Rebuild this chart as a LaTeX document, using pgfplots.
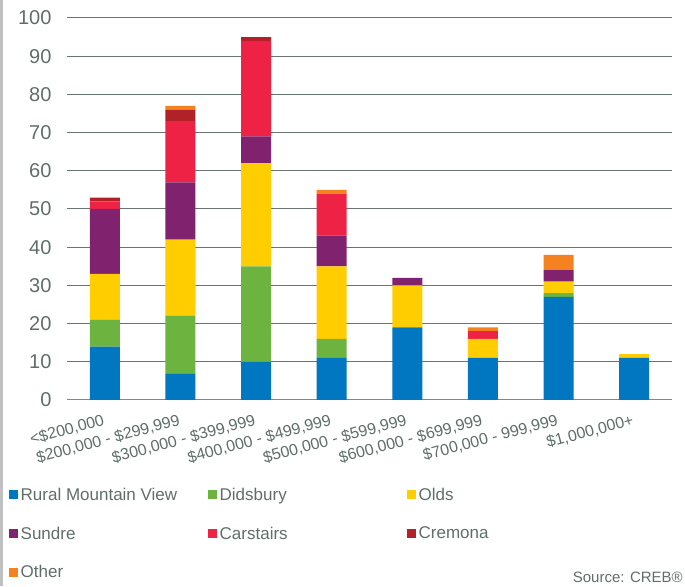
\documentclass[border=0pt]{standalone}
\usepackage{pgfplots}
\pgfplotsset{compat=1.18}
\usepackage{fontspec}
\setmainfont{Liberation Sans}
\definecolor{cRural}{RGB}{0,119,192}
\definecolor{cDid}{RGB}{109,179,63}
\definecolor{cOlds}{RGB}{255,205,0}
\definecolor{cSun}{RGB}{128,34,110}
\definecolor{cCar}{RGB}{237,34,68}
\definecolor{cCre}{RGB}{178,32,40}
\definecolor{cOth}{RGB}{245,130,32}
\definecolor{txt}{RGB}{95,110,106}
\definecolor{gridc}{RGB}{105,117,115}
\definecolor{axc}{RGB}{134,134,134}
\definecolor{framec}{RGB}{192,192,192}
\begin{document}
\begin{tikzpicture}
\useasboundingbox (0,0) rectangle (685pt,586pt);
\fill[framec] (0,0) rectangle (2.5pt,586pt);
\begin{axis}[
  at={(67pt,186pt)}, anchor=south west,
  width=605pt, height=382pt, scale only axis,
  ybar stacked, bar width=30pt,
  xmin=-0.5, xmax=7.5, ymin=0, ymax=100,
  xtick={0,...,7},
  xticklabels={{<\$200,000}, {\$200,000 - \$299,999}, {\$300,000 - \$399,999}, {\$400,000 - \$499,999}, {\$500,000 - \$599,999}, {\$600,000 - \$699,999}, {\$700,000 - 999,999}, {\$1,000,000+}},
  ytick={0,10,...,100},
  major tick length=0pt,
  axis line style={draw=none},
  ymajorgrids, grid style={gridc, line width=1pt},
  /pgf/number format/assume math mode=true,
  yticklabel style={font=\fontsize{20}{24}\selectfont, text=txt, xshift=-12pt},
  xticklabel style={font=\fontsize{16}{19}\selectfont, text=txt, rotate=15, anchor=north east, inner sep=0pt, yshift=-12pt, xshift=-6pt},
  legend columns=3,
  legend cell align=left,
  legend style={draw=none, fill=none, at={(axis description cs:-0.0967,-0.226)}, anchor=north west,
    font=\fontsize{17}{20}\selectfont, text=txt, inner xsep=0pt, inner ysep=0pt,
    nodes={inner sep=1.5pt}, row sep=22pt, column sep=0pt},
  legend image code/.code={\fill[#1, draw=none] (0pt,-4.5pt) rectangle (9pt,4.5pt);},
]
\addplot[fill=cRural, draw=none] coordinates {(0,14) (1,7) (2,10) (3,11) (4,19) (5,11) (6,27) (7,11)};
\addlegendentry{\makebox[187pt][l]{\hspace{1.5pt}Rural Mountain View}}
\addplot[fill=cDid, draw=none] coordinates {(0,7) (1,15) (2,25) (3,5) (4,0) (5,0) (6,1) (7,0)};
\addlegendentry{\makebox[187pt][l]{\hspace{1.5pt}Didsbury}}
\addplot[fill=cOlds, draw=none] coordinates {(0,12) (1,20) (2,27) (3,19) (4,11) (5,5) (6,3) (7,1)};
\addlegendentry{\makebox[100pt][l]{\hspace{1.5pt}Olds}}
\addplot[fill=cSun, draw=none] coordinates {(0,17) (1,15) (2,7) (3,8) (4,2) (5,0) (6,3) (7,0)};
\addlegendentry{\makebox[187pt][l]{\hspace{1.5pt}Sundre}}
\addplot[fill=cCar, draw=none] coordinates {(0,2) (1,16) (2,25) (3,11) (4,0) (5,2) (6,0) (7,0)};
\addlegendentry{\makebox[187pt][l]{\hspace{1.5pt}Carstairs}}
\addplot[fill=cCre, draw=none] coordinates {(0,1) (1,3) (2,1) (3,0) (4,0) (5,0) (6,0) (7,0)};
\addlegendentry{\makebox[100pt][l]{\hspace{1.5pt}Cremona}}
\addplot[fill=cOth, draw=none] coordinates {(0,0) (1,1) (2,0) (3,1) (4,0) (5,1) (6,4) (7,0)};
\addlegendentry{\makebox[187pt][l]{\hspace{1.5pt}Other}}
\draw[axc, line width=2pt] (axis cs:-0.5,0) -- (axis cs:7.5,0);
\end{axis}
\node[anchor=base east, font=\fontsize{15}{18}\selectfont, text=txt, inner sep=0pt] at (683pt,3pt) {Source: CREB®};
\end{tikzpicture}
\end{document}
